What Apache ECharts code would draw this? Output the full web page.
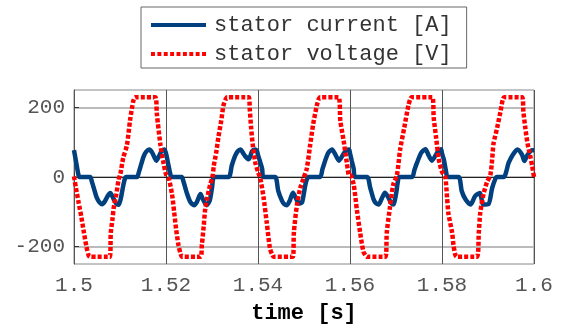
<!DOCTYPE html>
<html>
<head>
<meta charset="utf-8">
<script src="https://cdn.jsdelivr.net/npm/echarts@6/dist/echarts.min.js"></script>
<style>
    html, body { margin: 0; padding: 0; background: #fff; }
    #chart { width: 565px; height: 329px; }
</style>
</head>
<body>
<div id="chart"></div>
<script>
// stator current [A] (time in s)
var currentTime = [
    1.5000, 1.5005, 1.5010, 1.5012, 1.5035, 1.5039, 1.5044, 1.5049, 1.5055, 1.5061,
    1.5067, 1.5073, 1.5079, 1.5085, 1.5091, 1.5097, 1.5102, 1.5107, 1.5111, 1.5113,
    1.5137, 1.5141, 1.5146, 1.5151, 1.5157, 1.5164, 1.5170, 1.5175, 1.5179, 1.5184,
    1.5190, 1.5196,
    1.5200, 1.5205, 1.5210, 1.5213, 1.5234, 1.5238, 1.5246, 1.5253, 1.5261, 1.5267,
    1.5275, 1.5280, 1.5288, 1.5295, 1.5300, 1.5305, 1.5336, 1.5343, 1.5350, 1.5356,
    1.5362, 1.5367, 1.5372, 1.5380, 1.5387, 1.5394, 1.5398,
    1.5400, 1.5405, 1.5409, 1.5412, 1.5437, 1.5444, 1.5452, 1.5457, 1.5463, 1.5469,
    1.5476, 1.5485, 1.5491, 1.5496, 1.5503, 1.5507, 1.5510, 1.5535, 1.5540, 1.5546,
    1.5553, 1.5561, 1.5568, 1.5576, 1.5587, 1.5593, 1.5598,
    1.5600, 1.5604, 1.5608, 1.5611, 1.5637, 1.5644, 1.5651, 1.5656, 1.5662, 1.5669,
    1.5676, 1.5683, 1.5689, 1.5694, 1.5700, 1.5704, 1.5707, 1.5735, 1.5740, 1.5746,
    1.5755, 1.5764, 1.5771, 1.5778, 1.5789, 1.5794, 1.5798,
    1.5800, 1.5804, 1.5809, 1.5812, 1.5836, 1.5843, 1.5851, 1.5862, 1.5872, 1.5882,
    1.5890, 1.5901, 1.5909, 1.5916, 1.5919, 1.5934, 1.5945, 1.5954, 1.5964, 1.5974,
    1.5979, 1.5986, 1.5996, 1.6000
];
var current = [
    77, 40, 4, 0, 0, -14, -36, -58, -72, -78,
    -70, -55, -46, -60, -75, -80, -60, -25, -3, 0,
    0, 14, 36, 58, 73, 79, 70, 56, 47, 58,
    74, 79,
    68, 36, 5, 0, 0, -13, -49, -72, -81, -72,
    -49, -63, -81, -68, -31, 0, 0, 33, 60, 74,
    79, 70, 60, 51, 74, 79, 74,
    63, 42, 24, 0, 0, -40, -68, -78, -81, -68,
    -45, -68, -76, -72, -22, -4, 0, 0, 22, 47,
    70, 79, 65, 47, 69, 77, 79,
    68, 45, 24, 0, 0, -31, -63, -75, -79, -62,
    -45, -58, -74, -79, -50, -13, 0, 0, 20, 42,
    70, 80, 62, 47, 69, 77, 80,
    68, 50, 14, 0, 0, -41, -64, -79, -55, -46,
    -79, -78, -32, -5, 0, 0, 41, 64, 79, 64,
    46, 64, 77, 77
];

// stator voltage [V]
var voltageTime = [
    1.5000, 1.5004, 1.5010, 1.5016, 1.5021, 1.5027, 1.5032, 1.5035, 1.5078, 1.5080,
    1.5084, 1.5086, 1.5092, 1.5097, 1.5101, 1.5107, 1.5115, 1.5122, 1.5129, 1.5133,
    1.5177, 1.5180, 1.5188, 1.5194,
    1.5200, 1.5206, 1.5213, 1.5218, 1.5222, 1.5227, 1.5232, 1.5235, 1.5275, 1.5278,
    1.5282, 1.5285, 1.5290, 1.5296, 1.5301, 1.5304, 1.5309, 1.5314, 1.5320, 1.5325,
    1.5330, 1.5333, 1.5380, 1.5382, 1.5385, 1.5389, 1.5394,
    1.5400, 1.5405, 1.5412, 1.5419, 1.5426, 1.5431, 1.5434, 1.5476, 1.5478, 1.5485,
    1.5492, 1.5499, 1.5506, 1.5513, 1.5520, 1.5528, 1.5532, 1.5535, 1.5575, 1.5579,
    1.5586, 1.5593, 1.5598,
    1.5601, 1.5608, 1.5615, 1.5622, 1.5629, 1.5634, 1.5637, 1.5677, 1.5680, 1.5687,
    1.5694, 1.5702, 1.5709, 1.5718, 1.5727, 1.5731, 1.5734, 1.5779, 1.5782, 1.5787,
    1.5793,
    1.5800, 1.5807, 1.5811, 1.5814, 1.5822, 1.5825, 1.5829, 1.5832, 1.5876, 1.5880,
    1.5883, 1.5890, 1.5898, 1.5905, 1.5909, 1.5912, 1.5920, 1.5927, 1.5932, 1.5935,
    1.5974, 1.5977, 1.5981, 1.5986, 1.5992, 1.5996, 1.6000
];
var voltage = [
    2, -30, -73, -115, -155, -200, -226, -229, -229, -160,
    -118, -91, -50, -8, 10, 55, 91, 164, 219, 229,
    229, 183, 91, 45,
    8, -4, -49, -104, -150, -195, -222, -229, -229, -195,
    -141, -95, -58, -22, 0, 33, 69, 115, 161, 206,
    224, 229, 229, 197, 142, 88, 42,
    15, -4, -58, -131, -205, -224, -229, -229, -159, -77,
    -31, -4, 24, 88, 152, 206, 224, 229, 229, 161,
    106, 42, 5,
    5, -22, -95, -159, -214, -226, -229, -229, -159, -86,
    -22, 5, 79, 142, 206, 224, 229, 229, 170, 115,
    51,
    15, 0, -59, -105, -160, -196, -224, -229, -229, -160,
    -105, -50, -14, 5, 50, 96, 142, 187, 222, 229,
    229, 187, 142, 96, 59, 32, 0
];

var xTicks = [1.5, 1.6, 0.02];
var yTicks = [-200, 0, 200];

function pairs(ts, vs) {
    var out = [];
    for (var i = 0; i < ts.length; i++) {
        out.push([ts[i], vs[i]]);
    }
    return out;
}

var monoFont = '"Liberation Mono", "DejaVu Sans Mono", monospace';

// legend icons: solid bar, and a row of square dots
var solidIcon = 'path://M0,0h56v4h-56z';
var dotIcon = 'path://M0,0h4v4h-4zM6.5,0h4v4h-4zM13,0h4v4h-4zM19.5,0h4v4h-4zM26,0h4v4h-4z'
    + 'M32.5,0h4v4h-4zM39,0h4v4h-4zM45.5,0h4v4h-4zM52,0h4v4h-4z';

var chart = echarts.init(document.getElementById('chart'), null, {renderer: 'canvas'});
var option = {
    animation: false,
    backgroundColor: '#fff',
    legend: {
        left: 141,
        top: 7,
        orient: 'vertical',
        padding: [7, 15, 3, 10],
        itemGap: 7,
        itemWidth: 55,
        itemHeight: 4,
        symbolKeepAspect: false,
        borderColor: '#666',
        borderWidth: 1,
        backgroundColor: '#fff',
        textStyle: {
            fontFamily: monoFont,
            fontSize: 22,
            color: '#333',
            padding: [0, 0, 0, 3]
        },
        data: [
            {name: 'stator current [A]', icon: solidIcon},
            {name: 'stator voltage [V]', icon: dotIcon}
        ]
    },
    grid: {
        left: 74,
        right: 31,
        top: 90,
        bottom: 58,
        show: true,
        borderColor: '#888',
        borderWidth: 1
    },
    xAxis: {
        type: 'value',
        min: xTicks[0],
        max: xTicks[1],
        interval: xTicks[2],
        name: 'time [s]',
        nameLocation: 'middle',
        nameGap: 38,
        nameTextStyle: {
            fontFamily: monoFont,
            fontSize: 22,
            fontWeight: 'bold',
            color: '#000'
        },
        axisLine: {show: true, lineStyle: {color: '#222', width: 1}},
        axisTick: {show: true, inside: true, length: 5, lineStyle: {color: '#333'}},
        axisLabel: {
            fontFamily: monoFont,
            fontSize: 21,
            color: '#555',
            margin: 11,
            formatter: function (v) { return String(+v.toFixed(2)); }
        },
        splitLine: {show: true, lineStyle: {color: '#555', width: 1}}
    },
    yAxis: {
        type: 'value',
        min: -250,
        max: 250,
        axisLine: {show: true, lineStyle: {color: '#555', width: 1}},
        axisTick: {show: true, inside: true, length: 5, customValues: yTicks, lineStyle: {color: '#333'}},
        axisLabel: {
            fontFamily: monoFont,
            fontSize: 21,
            color: '#555',
            margin: 9,
            customValues: yTicks
        },
        splitLine: {show: true, lineStyle: {color: '#bbb', width: 2}}
    },
    series: [
        {
            name: 'stator current [A]',
            type: 'line',
            data: pairs(currentTime, current),
            showSymbol: false,
            symbol: 'none',
            smooth: 0.25,
            lineStyle: {color: '#00407f', width: 4.5},
            itemStyle: {color: '#00407f'}
        },
        {
            name: 'stator voltage [V]',
            type: 'line',
            data: pairs(voltageTime, voltage),
            showSymbol: false,
            symbol: 'none',
            smooth: 0.25,
            lineStyle: {color: '#ff0000', width: 4.5, type: [4, 2]},
            itemStyle: {color: '#ff0000'}
        }
    ]
};
chart.setOption(option);
</script>
</body>
</html>
